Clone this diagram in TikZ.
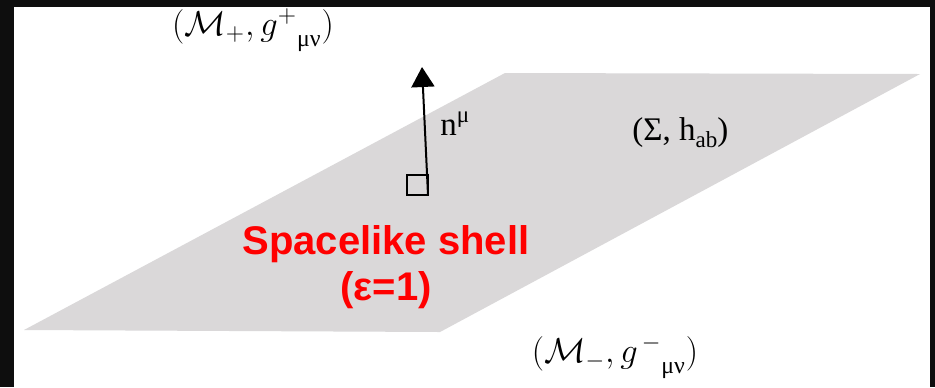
\documentclass[tikz,border=0pt]{standalone}
\usepackage{amsmath, amssymb}
\usepackage{fontspec}
\setmainfont{Liberation Serif}
\newfontfamily\redsans{Liberation Sans}
\usepackage{tikz}
\usetikzlibrary{arrows.meta, positioning}

\definecolor{planegray}{RGB}{218,216,217}
\definecolor{framedark}{RGB}{14,14,14}
\definecolor{shellred}{RGB}{255,0,0}

\tikzset{
  manifold/.style={font=\fontsize{17}{20}\selectfont, inner sep=0pt, anchor=base},
  serifnote/.style={font=\fontsize{16.5}{19}\selectfont, inner sep=0pt, anchor=base west},
  shelltext/.style={text=shellred, font=\redsans\bfseries\fontsize{20}{23}\selectfont,
    inner sep=0pt, anchor=base}
}

\begin{document}
\begin{tikzpicture}[x=0.5pt, y=-0.5pt]
  % frame and page
  \useasboundingbox (0,0) rectangle (935,387);
  \fill[framedark] (0,0) rectangle (935,387);
  \fill[white] (14,7) rectangle (930,387);
  % the shell
  \fill[planegray] (24,330) -- (505,73) -- (920,74) -- (440,332) -- cycle;
  % normal vector
  \coordinate (nbase) at (428,195);
  \coordinate (ntip) at (422,67);
  \draw[line width=0.7pt] (nbase) rectangle ++(-21,-20);
  \draw[line width=1pt, -{Triangle[width=11.5pt,length=10pt]}] (nbase) -- (ntip);
  \node[serifnote] (normal) at (440,135) {n\textsuperscript{μ}};
  \node[serifnote] (sigma) at (632,140)
    {(Σ, h\raisebox{-0.5ex}{\fontsize{11.5}{12}\selectfont ab})};
  % the two sides
  \node[manifold] (mplus) at (253,35)
    {$(\mathcal{M}_{+}{,}\,g^{+}{}_{\raisebox{-0.4ex}{$\scriptstyle\text{μν}$}})$};
  \node[manifold] (mminus) at (615,362)
    {$(\mathcal{M}_{-}{,}\,g^{\,-}{}_{\raisebox{-0.4ex}{$\scriptstyle\text{μν}$}})$};
  % label
  \node[shelltext] (shell) at (386,254) {Spacelike shell};
  \node[shelltext] (epsilon) at (386,300) {(ε=1)};
\end{tikzpicture}
\end{document}
